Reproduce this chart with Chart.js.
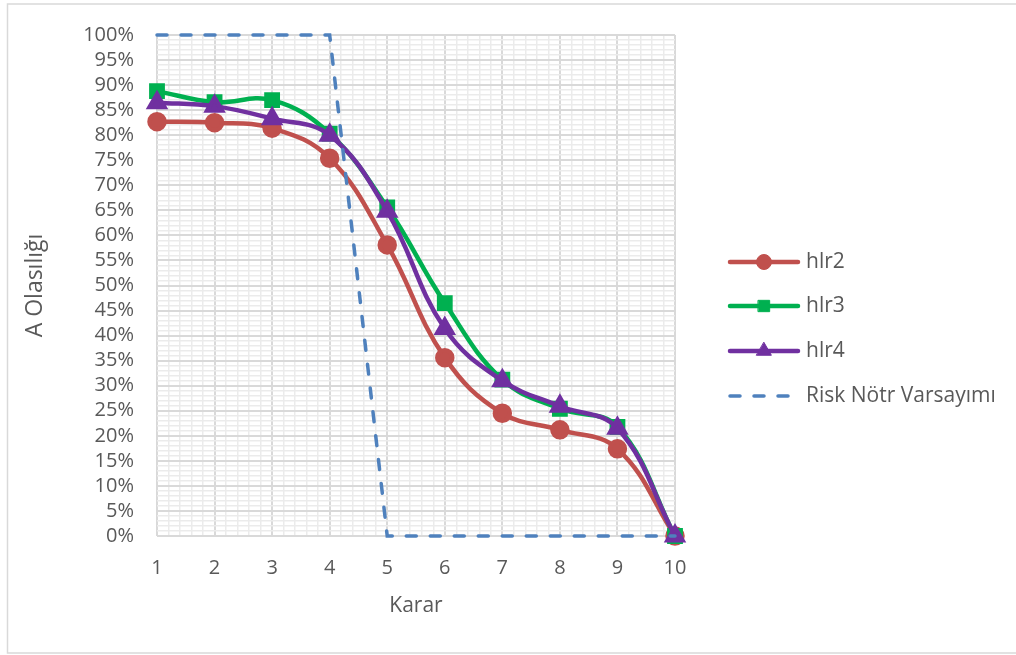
<!DOCTYPE html>
<html>
<head>
<meta charset="utf-8">
<script src="https://cdn.jsdelivr.net/npm/chart.js@4"></script>
<style>
    html, body { margin: 0; padding: 0; background: #fff; }
    #wrap { width: 1016px; height: 655px; position: relative; }
</style>
</head>
<body>
<div id="wrap"><canvas id="riskChart"></canvas></div>
<script>
// data
const kararlar = [1, 2, 3, 4, 5, 6, 7, 8, 9, 10];
const hlr2 = [82.7, 82.5, 81.4, 75.4, 58.1, 35.6, 24.5, 21.2, 17.4, 0];
const hlr3 = [88.8, 86.6, 87.0, 80.3, 65.6, 46.5, 31.2, 25.4, 21.8, 0];
const hlr4 = [86.5, 85.8, 83.3, 80.0, 64.8, 41.4, 31.0, 25.9, 21.5, 0];
const riskNotr = [100, 100, 100, 100, 0, 0, 0, 0, 0, 0];

const textColor = "#595959";
const fontFamily = "'Open Sans', sans-serif";

const toPoints = (values) => kararlar.map((k, i) => ({ x: k, y: values[i] }));

const isWhole = (v, step) => Math.abs(v / step - Math.round(v / step)) < 1e-6;

// legend drawn on the right like the original
const sideLegend = {
    id: "sideLegend",
    afterDraw(chart) {
        const ctx = chart.ctx;
        const rows = [262, 306, 351, 396];
        ctx.save();
        chart.data.datasets.forEach((ds, i) => {
            const y = rows[i];
            ctx.strokeStyle = ds.borderColor;
            ctx.fillStyle = ds.borderColor;
            ctx.lineWidth = ds.borderWidth;
            ctx.lineCap = "round";
            ctx.setLineDash(ds.borderDash ? [10, 14] : []);
            ctx.beginPath();
            ctx.moveTo(730, y);
            ctx.lineTo(798, y);
            ctx.stroke();
            ctx.setLineDash([]);
            if (ds.pointRadius > 0) {
                ctx.lineWidth = 1;
                Chart.helpers.drawPoint(ctx, {
                    pointStyle: ds.pointStyle,
                    radius: ds.pointRadius,
                    borderWidth: 1,
                }, 764, y);
            }
            ctx.fillStyle = textColor;
            ctx.font = "21px " + fontFamily;
            ctx.textBaseline = "middle";
            ctx.textAlign = "left";
            ctx.fillText(ds.label, 806, y);
        });
        ctx.restore();
    },
};

// light frame around the whole picture
const frame = {
    id: "frame",
    beforeDraw(chart) {
        const ctx = chart.ctx;
        ctx.save();
        ctx.fillStyle = "#fff";
        ctx.fillRect(0, 0, chart.width, chart.height);
        ctx.strokeStyle = "#D9D9D9";
        ctx.lineWidth = 1.5;
        ctx.strokeRect(7.5, 4, 1020, 649);
        ctx.restore();
    },
};

const makeSeries = (label, values, color, style, radius, order) => ({
    label,
    data: toPoints(values),
    borderColor: color,
    backgroundColor: color,
    pointBackgroundColor: color,
    pointBorderColor: color,
    borderWidth: 4.5,
    pointStyle: style,
    pointRadius: radius,
    pointHoverRadius: radius,
    tension: 0.4,
    clip: false,
    order,
});

const ctx = document.getElementById("riskChart").getContext("2d");
new Chart(ctx, {
    type: "line",
    data: {
        datasets: [
            makeSeries("hlr2", hlr2, "#C0504D", "circle", 7.5, 3),
            makeSeries("hlr3", hlr3, "#00B050", "rect", 8, 2),
            makeSeries("hlr4", hlr4, "#7030A0", "triangle", 8.5, 1),
            {
                label: "Risk Nötr Varsayımı",
                data: toPoints(riskNotr),
                borderColor: "#4F81BD",
                backgroundColor: "#4F81BD",
                borderWidth: 3.5,
                borderDash: [10, 14],
                borderCapStyle: "round",
                pointRadius: 0,
                tension: 0,
                clip: false,
                order: 0,
            },
        ],
    },
    options: {
        responsive: true,
        maintainAspectRatio: false,
        animation: false,
        events: [],
        layout: {
            padding: { left: 7, right: 341, top: 32, bottom: 0 },
        },
        plugins: {
            legend: { display: false },
            tooltip: { enabled: false },
        },
        scales: {
            x: {
                type: "linear",
                min: 1,
                max: 10,
                afterBuildTicks: (scale) => {
                    const ticks = [];
                    for (let i = 0; i <= 45; i++) ticks.push({ value: 1 + i * 0.2 });
                    scale.ticks = ticks;
                },
                afterFit: (scale) => { scale.height = 119; },
                ticks: {
                    autoSkip: false,
                    maxRotation: 0,
                    padding: 20,
                    color: textColor,
                    font: { family: fontFamily, size: 20 },
                    callback: (v) => (isWhole(v, 1) ? String(Math.round(v)) : ""),
                },
                grid: {
                    drawTicks: false,
                    color: (c) => (isWhole(c.tick.value, 1) ? "#D9D9D9" : "#EBEBEB"),
                    lineWidth: (c) => (isWhole(c.tick.value, 1) ? 2 : 1.5),
                },
                border: { display: false },
                title: {
                    display: true,
                    text: "Karar",
                    color: textColor,
                    font: { family: fontFamily, size: 21 },
                    padding: { top: 0, bottom: 36 },
                },
            },
            y: {
                min: 0,
                max: 100,
                afterFit: (scale) => { scale.width = 150; },
                ticks: {
                    stepSize: 1,
                    autoSkip: false,
                    padding: 23,
                    color: textColor,
                    font: { family: fontFamily, size: 20 },
                    callback: (v) => (isWhole(v, 5) ? v + "%" : ""),
                },
                grid: {
                    drawTicks: false,
                    color: (c) => (isWhole(c.tick.value, 5) ? "#D9D9D9" : "#EBEBEB"),
                    lineWidth: (c) => (isWhole(c.tick.value, 5) ? 2 : 1.5),
                },
                border: { display: false },
                title: {
                    display: true,
                    text: "A Olasılığı",
                    color: textColor,
                    font: { family: fontFamily, size: 23 },
                    padding: { top: 15, bottom: 0 },
                },
            },
        },
    },
    plugins: [frame, sideLegend],
});
</script>
</body>
</html>
